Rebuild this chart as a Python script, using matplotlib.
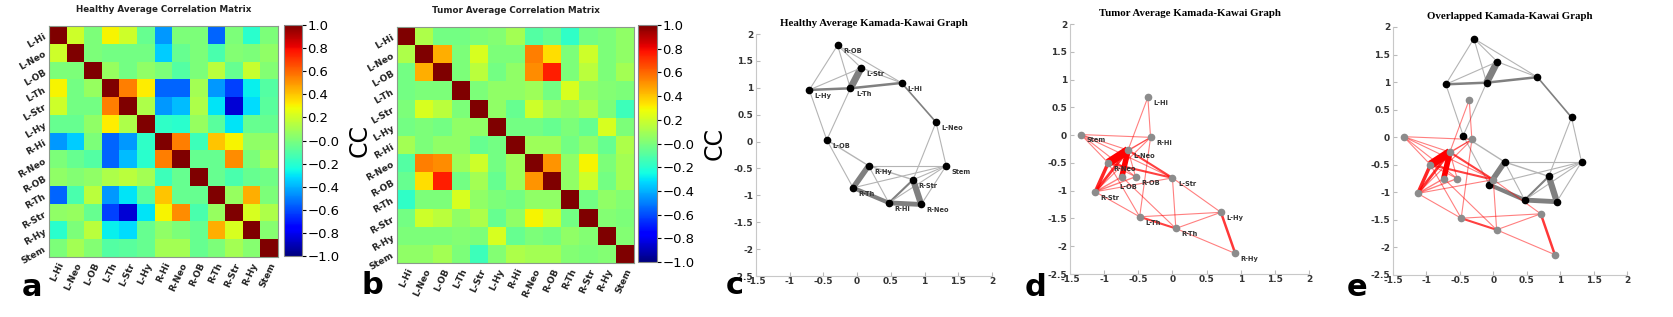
import numpy as np
import matplotlib
matplotlib.use("Agg")
import matplotlib.pyplot as plt

# ---------------------------------------------------------------
# data
# ---------------------------------------------------------------
regions = ["L-Hi", "L-Neo", "L-OB", "L-Th", "L-Str", "L-Hy",
           "R-Hi", "R-Neo", "R-OB", "R-Th", "R-Str", "R-Hy", "Stem"]

healthy_cc = [
    [1.00, 0.20, 0.00, 0.30, 0.20, -0.05, -0.45, 0.00, 0.00, -0.55, 0.00, -0.20, 0.00],
    [0.20, 1.00, 0.00, -0.02, -0.02, -0.02, -0.35, -0.05, 0.00, -0.12, 0.02, 0.00, 0.05],
    [0.00, 0.00, 1.00, 0.07, -0.02, 0.05, 0.00, -0.10, 0.00, 0.15, -0.05, 0.18, 0.02],
    [0.30, -0.02, 0.07, 1.00, 0.55, 0.32, -0.55, -0.55, 0.10, -0.45, -0.62, -0.28, -0.10],
    [0.20, -0.02, -0.02, 0.55, 1.00, 0.12, -0.45, -0.38, 0.12, -0.30, -0.85, -0.32, -0.08],
    [-0.05, -0.05, 0.05, 0.32, 0.12, 1.00, -0.18, -0.20, 0.07, -0.08, -0.30, -0.05, -0.05],
    [-0.45, -0.35, 0.00, -0.55, -0.45, -0.18, 1.00, 0.55, -0.15, 0.40, 0.30, 0.05, 0.05],
    [0.00, -0.05, -0.10, -0.55, -0.38, -0.20, 0.55, 1.00, -0.05, -0.05, 0.52, 0.00, 0.10],
    [0.05, 0.02, 0.05, 0.12, 0.15, 0.10, -0.15, -0.05, 1.00, -0.05, -0.12, -0.05, -0.03],
    [-0.55, -0.12, 0.15, -0.45, -0.30, -0.08, 0.40, -0.05, -0.05, 1.00, 0.07, 0.45, 0.00],
    [0.05, 0.07, -0.05, -0.62, -0.85, -0.30, 0.30, 0.52, -0.12, 0.07, 1.00, 0.22, 0.12],
    [-0.20, 0.00, 0.15, -0.28, -0.32, -0.05, 0.05, 0.00, -0.05, 0.45, 0.22, 1.00, 0.03],
    [0.00, 0.10, 0.02, -0.10, -0.08, -0.05, 0.10, 0.10, -0.05, 0.00, 0.10, 0.03, 1.00],
]

tumor_cc = [
    [1.00, 0.12, -0.02, -0.02, 0.00, 0.02, 0.10, -0.10, -0.05, -0.18, -0.02, 0.00, 0.05],
    [0.12, 1.00, 0.45, 0.00, 0.22, 0.00, 0.00, 0.55, 0.35, 0.00, 0.20, 0.00, 0.05],
    [-0.02, 0.45, 1.00, 0.00, 0.15, -0.02, 0.05, 0.52, 0.75, 0.00, 0.15, 0.00, 0.10],
    [-0.02, 0.00, 0.00, 1.00, 0.00, 0.05, 0.05, 0.08, -0.02, 0.22, 0.05, 0.02, 0.00],
    [0.00, 0.22, 0.15, 0.00, 1.00, 0.05, -0.05, 0.20, 0.10, 0.05, 0.12, 0.00, -0.15],
    [-0.02, 0.00, -0.02, 0.05, 0.05, 1.00, -0.02, -0.02, -0.05, 0.00, -0.05, 0.22, 0.00],
    [0.10, 0.00, 0.05, 0.05, -0.05, -0.02, 1.00, 0.08, 0.08, -0.02, 0.05, -0.05, 0.12],
    [-0.10, 0.55, 0.52, 0.08, 0.20, -0.02, 0.08, 1.00, 0.50, 0.05, 0.30, 0.00, 0.10],
    [-0.05, 0.35, 0.75, -0.02, 0.10, -0.05, 0.08, 0.50, 1.00, 0.05, 0.20, -0.02, 0.10],
    [-0.18, 0.00, 0.00, 0.22, 0.05, 0.00, -0.02, 0.05, 0.05, 1.00, -0.02, 0.05, 0.02],
    [-0.02, 0.20, 0.15, 0.05, 0.12, -0.05, 0.05, 0.30, 0.20, -0.02, 1.00, 0.02, 0.00],
    [0.00, 0.00, 0.00, 0.02, 0.00, 0.22, -0.05, 0.00, -0.02, 0.05, 0.02, 1.00, 0.02],
    [0.05, 0.05, 0.10, 0.00, -0.15, 0.02, 0.12, 0.10, 0.10, 0.02, 0.00, 0.02, 1.00],
]

# Kamada-Kawai node positions (same order as regions)
healthy_x = [0.66, 1.17, -0.45, -0.10, 0.06, -0.71, 0.47, 0.95, -0.29, -0.06, 0.83, 0.17, 1.32]
healthy_y = [1.09, 0.36, 0.03, 0.99, 1.37, 0.96, -1.14, -1.17, 1.79, -0.86, -0.71, -0.45, -0.45]
tumor_x = [-0.36, -0.65, -0.74, -0.48, 0.00, 0.71, -0.32, -0.94, -0.54, 0.05, -1.13, 0.92, -1.34]
tumor_y = [0.68, -0.27, -0.75, -1.47, -0.77, -1.39, -0.04, -0.50, -0.75, -1.68, -1.02, -2.13, 0.01]

# graph edges: (node, node, line width)
healthy_edges = [
    ("R-OB", "L-Hy", 0.8), ("R-OB", "L-Th", 0.8), ("R-OB", "L-Str", 0.8), ("R-OB", "L-Hi", 0.8),
    ("L-Str", "L-Th", 5.0), ("L-Str", "L-Hi", 0.8), ("L-Str", "L-Hy", 0.8),
    ("L-Th", "L-Hi", 1.8), ("L-Th", "L-Hy", 1.8), ("L-Hy", "L-OB", 0.8), ("L-Th", "L-OB", 0.8),
    ("L-Hi", "L-Neo", 1.2), ("L-Neo", "Stem", 0.8), ("L-Neo", "R-Str", 0.8),
    ("L-OB", "R-Hy", 1.0), ("L-OB", "R-Th", 0.8),
    ("R-Hy", "Stem", 0.8), ("R-Hy", "R-Th", 4.0), ("R-Hy", "R-Hi", 0.8), ("R-Hy", "R-Str", 1.0),
    ("R-Th", "R-Hi", 3.0), ("R-Th", "Stem", 0.8), ("R-Hi", "R-Str", 1.5), ("R-Hi", "Stem", 0.8),
    ("R-Hi", "R-Neo", 3.5), ("R-Str", "R-Neo", 4.5), ("R-Str", "Stem", 0.8), ("R-Neo", "Stem", 0.8),
]

tumor_edges = [
    ("L-Hi", "R-Hi", 0.8), ("L-Hi", "L-Neo", 0.8),
    ("Stem", "R-Hi", 0.8), ("Stem", "L-Neo", 0.8), ("Stem", "R-Neo", 0.8), ("Stem", "R-OB", 0.8),
    ("Stem", "L-Str", 0.8),
    ("R-Hi", "L-Neo", 0.8), ("R-Hi", "R-Neo", 0.8), ("R-Hi", "R-Str", 0.8), ("R-Hi", "L-Th", 0.8),
    ("L-Neo", "R-Neo", 6.0), ("L-Neo", "L-OB", 4.0), ("L-Neo", "R-Str", 2.0), ("L-Neo", "L-Str", 1.5),
    ("L-Neo", "R-OB", 0.8),
    ("R-Neo", "R-Str", 2.5), ("R-Neo", "L-Str", 1.5), ("R-Neo", "L-Th", 0.8), ("R-Neo", "R-OB", 0.8),
    ("R-Str", "L-OB", 1.0), ("R-Str", "R-OB", 1.0), ("R-Str", "L-Str", 0.8), ("R-Str", "L-Th", 0.8),
    ("L-Str", "L-Hy", 0.8), ("L-Str", "R-Th", 0.8), ("L-OB", "R-Th", 0.8),
    ("L-Th", "L-Hy", 0.8), ("L-Th", "R-Th", 1.5), ("R-Th", "L-Hy", 0.8), ("R-Th", "R-Hy", 0.8),
    ("L-Hy", "R-Hy", 1.8),
]

cc_ticks = np.arange(-1.0, 1.01, 0.2)
graph_xticks = [-1.5, -1, -0.5, 0, 0.5, 1, 1.5, 2]
graph_yticks = [-2.5, -2, -1.5, -1, -0.5, 0, 0.5, 1, 1.5, 2]

# ---------------------------------------------------------------
# figure
# ---------------------------------------------------------------
fig = plt.figure(figsize=(16.73, 3.17), dpi=100)
W, H = 1673.0, 317.0

def box(x0, y0, x1, y1):
    # pixel box (top-left origin) -> figure fraction rect
    return [x0 / W, 1 - y1 / H, (x1 - x0) / W, (y1 - y0) / H]

def heatmap(rect, cbrect, mat, title):
    ax = fig.add_axes(rect)
    im = ax.imshow(np.array(mat), cmap="jet", vmin=-1, vmax=1, aspect="auto",
                   interpolation="nearest")
    ax.set_xticks(range(len(regions)))
    ax.set_yticks(range(len(regions)))
    ax.set_xticklabels(regions, rotation=65, ha="right", rotation_mode="anchor",
                       fontsize=6.5, fontweight="bold", color="#222222")
    ax.set_yticklabels(regions, rotation=30, ha="right", rotation_mode="anchor",
                       fontsize=6.5, fontweight="bold", color="#222222")
    ax.tick_params(length=0, pad=3)
    for s in ax.spines.values():
        s.set_color("#8a9a8a")
    ax.set_title(title, fontsize=6.3, fontweight="bold", color="#222222", pad=10)
    cax = fig.add_axes(cbrect)
    cb = fig.colorbar(im, cax=cax)
    cb.set_ticks(cc_ticks)
    cb.set_ticklabels([f"{t:.1f}".replace("-", "\u2212") for t in cc_ticks])
    cb.ax.tick_params(labelsize=9.5, length=3, pad=1)
    cb.outline.set_edgecolor("#888888")
    cb.set_label("CC", fontsize=17, labelpad=6)
    return ax

def graph_axes(rect, title):
    ax = fig.add_axes(rect)
    ax.set_xlim(-1.5, 2)
    ax.set_ylim(-2.5, 2)
    ax.set_xticks(graph_xticks)
    ax.set_yticks(graph_yticks)
    ax.set_xticklabels([f"{t:g}" for t in graph_xticks])
    ax.set_yticklabels([f"{t:g}" for t in graph_yticks])
    ax.tick_params(direction="in", length=3, labelsize=6.5, colors="#bbbbbb",
                   labelcolor="#333333", pad=2)
    ax.tick_params(axis="x", pad=1)
    for lab in ax.get_xticklabels() + ax.get_yticklabels():
        lab.set_fontweight("bold")
    ax.spines["top"].set_visible(False)
    ax.spines["right"].set_visible(False)
    ax.spines["left"].set_color("#c8c8c8")
    ax.spines["bottom"].set_color("#c8c8c8")
    ax.set_title(title, fontsize=7.8, fontweight="bold", family="Liberation Serif", pad=6)
    return ax

def draw_graph(ax, xs, ys, edges, kind, labels=True):
    pos = {r: (xs[i], ys[i]) for i, r in enumerate(regions)}
    for a, b, w in edges:
        (x0, y0), (x1, y1) = pos[a], pos[b]
        if kind == "healthy":
            col = "#b4b4b4" if w < 1.1 else "#808080"
            ax.plot([x0, x1], [y0, y1], color=col, lw=w, solid_capstyle="butt", zorder=2)
        else:
            alpha = 0.5 if w < 1.1 else min(1.0, 0.6 + 0.1 * w)
            ax.plot([x0, x1], [y0, y1], color="red", alpha=alpha, lw=w,
                    solid_capstyle="butt", zorder=3)
    ncol = "black" if kind == "healthy" else "#8c8c8c"
    ax.plot(xs, ys, "o", color=ncol, ms=4.5, zorder=5)
    if labels:
        for i, r in enumerate(regions):
            off = (4, -2)
            if kind == "tumor" and r == "L-OB":
                off = (-2, -5)
            ax.annotate(r, (xs[i], ys[i]), xytext=off, textcoords="offset points",
                        fontsize=4.8, fontweight="bold", color="#333333",
                        ha="left", va="top", zorder=6)

heatmap(box(49, 26, 278, 257), box(284, 25, 302, 256), healthy_cc,
        "Healthy Average Correlation Matrix")
heatmap(box(397, 27, 634, 263), box(638, 25, 657, 262), tumor_cc,
        "Tumor Average Correlation Matrix")

ax_c = graph_axes(box(756, 34, 992, 276), "Healthy Average Kamada-Kawai Graph")
draw_graph(ax_c, healthy_x, healthy_y, healthy_edges, "healthy")
ax_d = graph_axes(box(1070, 24, 1309, 274), "Tumor Average Kamada-Kawai Graph")
draw_graph(ax_d, tumor_x, tumor_y, tumor_edges, "tumor")
ax_e = graph_axes(box(1393, 27, 1627, 275), "Overlapped Kamada-Kawai Graph")
draw_graph(ax_e, healthy_x, healthy_y, healthy_edges, "healthy", labels=False)
draw_graph(ax_e, tumor_x, tumor_y, tumor_edges, "tumor", labels=False)

# panel letters
for letter, px, py in [("a", 32, 287), ("b", 372, 285), ("c", 735, 285),
                       ("d", 1035, 287), ("e", 1357, 287)]:
    fig.text(px / W, 1 - py / H, letter, fontsize=22, fontweight="bold",
             ha="center", va="center")

fig.savefig("out.png", dpi=100)
